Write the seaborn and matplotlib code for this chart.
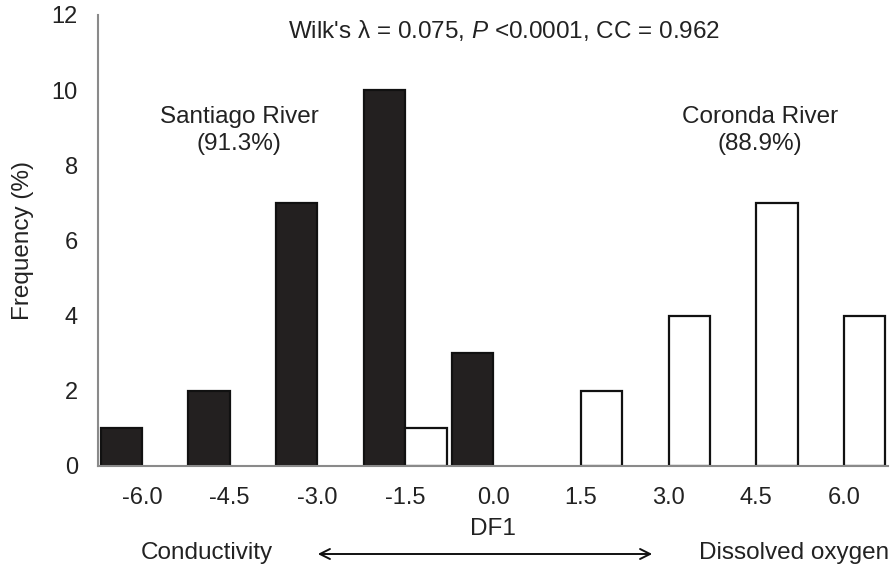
import matplotlib
matplotlib.use("Agg")
import matplotlib.pyplot as plt
import numpy as np
import pandas as pd
import seaborn as sns

# DF1 score classes and frequency (%) of each river
categories = ["-6.0", "-4.5", "-3.0", "-1.5", "0.0", "1.5", "3.0", "4.5", "6.0"]
santiago_cats = ["-6.0", "-4.5", "-3.0", "-1.5", "0.0"]
santiago_vals = [1, 2, 7, 10, 3]
coronda_cats = ["-1.5", "1.5", "3.0", "4.5", "6.0"]
coronda_vals = [1, 2, 4, 7, 4]
y_ticks = [0, 2, 4, 6, 8, 10, 12]

df = pd.concat([
    pd.DataFrame({"DF1": santiago_cats, "freq": santiago_vals, "river": "Santiago"}),
    pd.DataFrame({"DF1": coronda_cats, "freq": coronda_vals, "river": "Coronda"}),
])

sns.set_style("white")
plt.rcParams["font.family"] = ["Liberation Sans", "DejaVu Sans"]
plt.rcParams["mathtext.fontset"] = "custom"
plt.rcParams["mathtext.rm"] = "Liberation Sans"
plt.rcParams["mathtext.it"] = "Liberation Sans:italic"

TXT = "#222222"
FS = 17.5

fig = plt.figure(figsize=(8.96, 5.66), dpi=100)
ax = fig.add_axes([0.1094, 0.1767, 0.8817, 0.7968])

sns.barplot(data=df, x="DF1", y="freq", hue="river", order=categories,
            hue_order=["Santiago", "Coronda"],
            palette={"Santiago": "#231f20", "Coronda": "white"},
            edgecolor="#111111", linewidth=1.6, width=0.94, gap=0,
            errorbar=None, legend=False, ax=ax)

ax.set_xlim(-0.5, len(categories) - 0.5)
ax.set_ylim(0, 12)
ax.set_yticks(y_ticks)
ax.set_yticklabels([str(v) for v in y_ticks])

# labels centred in classes, tick marks on class boundaries
ax.set_xticks(np.arange(len(categories)))
ax.set_xticklabels(categories)
ax.set_xticks(np.arange(len(categories) + 1) - 0.5, minor=True)
ax.tick_params(axis="x", which="major", length=0, pad=15, labelsize=17, colors=TXT)
ax.tick_params(axis="x", which="minor", length=5.5, width=1.5, color="#8a8a8a", direction="out")
ax.tick_params(axis="y", length=5.5, width=1.5, color="#8a8a8a", direction="out",
               labelsize=17, labelcolor=TXT, pad=9)

for s in ["top", "right"]:
    ax.spines[s].set_visible(False)
for s in ["left", "bottom"]:
    ax.spines[s].set_color("#8a8a8a")
    ax.spines[s].set_linewidth(1.5)

ax.set_xlabel("DF1", fontsize=FS, color=TXT)
ax.xaxis.set_label_coords(0.5, -0.115)
ax.set_ylabel("Frequency (%)", fontsize=FS, color=TXT)
ax.yaxis.set_label_coords(-0.095, 0.5)
ax.yaxis.label.set_va("center")

ax.text(0.514, 0.966, r"Wilk's λ = 0.075, $\mathit{P}$ <0.0001, CC = 0.962",
        transform=ax.transAxes, ha="center", va="center", fontsize=FS, color=TXT)
ax.text(1.11, 8.92, "Santiago River\n(91.3%)", ha="center", va="center",
        fontsize=FS, color=TXT, linespacing=1.3)
ax.text(7.045, 8.92, "Coronda River\n(88.9%)", ha="center", va="center",
        fontsize=FS, color=TXT, linespacing=1.3)

fig.text(207 / 896, 1 - 559 / 566, "Conductivity", ha="center", va="baseline",
         fontsize=FS, color=TXT)
fig.text(794 / 896, 1 - 559 / 566, "Dissolved oxygen", ha="center", va="baseline",
         fontsize=FS, color=TXT)
fig.add_artist(matplotlib.patches.FancyArrowPatch(
    (315 / 896, 1 - 554 / 566), (655 / 896, 1 - 554 / 566),
    transform=fig.transFigure, arrowstyle="<->", mutation_scale=18,
    color="#111111", linewidth=1.4))

fig.savefig("out.png", dpi=100)
